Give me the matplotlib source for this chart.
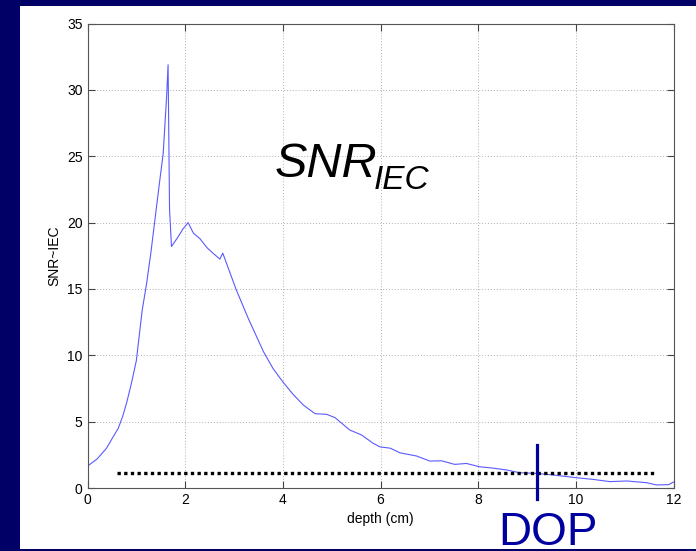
import numpy as np
import matplotlib
matplotlib.use('Agg')
import matplotlib.pyplot as plt
from matplotlib.patches import Rectangle

plt.rcParams['font.family'] = ['Liberation Sans', 'DejaVu Sans']

# SNR-IEC vs depth
depth = [0.0, 0.2, 0.39, 0.5, 0.63, 0.72, 0.8, 0.9, 1.0, 1.12, 1.21, 1.3, 1.38, 1.46, 1.55, 1.62, 1.65,
         1.68, 1.72, 1.85, 1.95, 2.06, 2.17, 2.3, 2.45, 2.6, 2.71, 2.77, 2.92, 3.05, 3.29, 3.6, 3.8,
         4.0, 4.2, 4.42, 4.66, 4.9, 5.07, 5.37, 5.61, 5.85, 5.99, 6.2, 6.4, 6.74, 7.01, 7.25, 7.52,
         7.76, 8.03, 8.3, 8.58, 8.85, 9.2, 9.54, 10.0, 10.35, 10.7, 11.04, 11.45, 11.65, 11.9, 12.0]
snr = [1.65, 2.2, 3.0, 3.7, 4.5, 5.4, 6.4, 7.9, 9.6, 13.4, 15.4, 17.8, 20.2, 22.6, 25.2, 29.5, 31.9,
       21.0, 18.2, 18.9, 19.5, 20.0, 19.2, 18.8, 18.1, 17.6, 17.25, 17.7, 16.2, 14.9, 12.8, 10.3, 9.0,
       8.0, 7.1, 6.25, 5.6, 5.55, 5.3, 4.37, 4.0, 3.37, 3.1, 3.0, 2.65, 2.41, 2.03, 2.05, 1.78,
       1.85, 1.6, 1.5, 1.36, 1.15, 1.1, 0.98, 0.78, 0.65, 0.48, 0.53, 0.4, 0.23, 0.25, 0.45]

thr_x = [0.6, 11.62]
thr_y = [1.15, 1.15]
dop = 9.21

fig = plt.figure(figsize=(6.96, 5.51), dpi=100, facecolor='#000066')
fig.patches.append(Rectangle((20/696, 2/551), 676/696, 543/551, transform=fig.transFigure,
                             facecolor='white', edgecolor='none', zorder=-10))

ax = fig.add_axes([87.5/696, 63/551, 586/696, 464.4/551])
ax.plot(depth, snr, color='#5a5aff', lw=0.8)
ax.plot(thr_x, thr_y, color='black', lw=2.4, linestyle=(0, (1, 1)))
ax.plot([dop, dop], [-0.8, 3.25], color='#0000a0', lw=2.3, clip_on=False, zorder=5)

ax.set_xlim(0, 12)
ax.set_ylim(0, 35)
ax.set_xticks(np.arange(0, 13, 2))
ax.set_yticks(np.arange(0, 36, 5))
ax.grid(True, color='#b0b0b0', linestyle=(0, (1, 2)), lw=0.7)
ax.tick_params(direction='in', top=True, right=True, labelsize=10, length=5, color='#444444')
for s in ax.spines.values():
    s.set_color('#555555')
    s.set_linewidth(0.8)
ax.set_xlabel('depth (cm)', fontsize=10, labelpad=4)
ax.set_ylabel('SNR~IEC', fontsize=10, labelpad=4)

fig.text(275/696, 1 - 176.7/551, 'SNR', fontsize=35, style='italic', color='black', va='baseline')
fig.text(374/696, 1 - 189/551, 'IEC', fontsize=24, style='italic', color='black', va='baseline')
fig.text(498/696, 1 - 545/551, 'DOP', fontsize=33, color='#0000a0', va='baseline')

plt.savefig('out.png', dpi=100, facecolor=fig.get_facecolor())
